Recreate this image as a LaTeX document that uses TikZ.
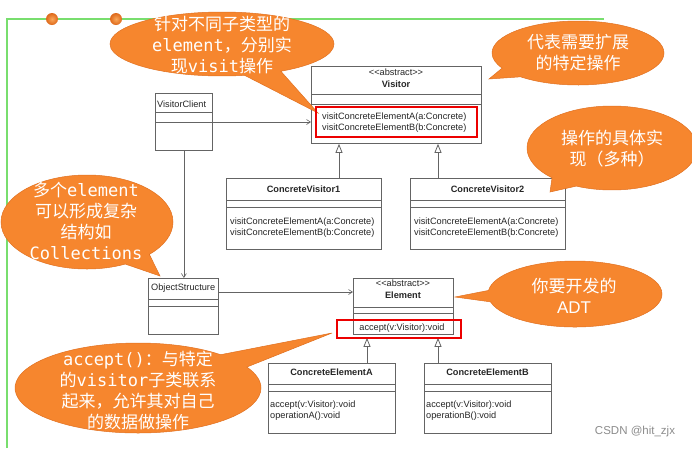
\documentclass[tikz,border=0pt]{standalone}
\usepackage{fontspec}
\setmainfont{Liberation Sans}
\newfontfamily\cjk{Noto Sans CJK SC}
\newfontfamily\mono{DejaVu Sans Mono}
\usepackage{tikz}
\usetikzlibrary{shapes.callouts,arrows.meta}

\definecolor{noteorange}{RGB}{246,134,46}
\definecolor{noteedge}{RGB}{225,112,32}
\definecolor{framegreen}{RGB}{120,222,110}
\definecolor{dotlight}{RGB}{250,168,90}
\definecolor{dotorange}{RGB}{222,104,26}
\definecolor{boxgray}{RGB}{100,100,100}
\definecolor{markred}{RGB}{236,0,0}

\newcommand{\umlsize}{\fontsize{9.2}{11}\selectfont}
\newcommand{\lat}[1]{{\mono #1}}
\newcommand{\stereo}{<\kern0pt<abstract>\kern0pt>}

\begin{document}
\begin{tikzpicture}[x=1pt,y=-1pt]

% Define class box, note and line styles
\tikzstyle{umlbox}  =[rectangle, draw=boxgray, fill=white, line width=0.8pt,
                      anchor=north west, inner sep=0pt]
\tikzstyle{umltext} =[inner sep=0pt, text=black!85, font=\umlsize]
\tikzstyle{umlbold} =[umltext, font=\umlsize\bfseries]
\tikzstyle{umlline} =[draw=boxgray, line width=0.8pt]
\tikzstyle{assoc}   =[umlline, line width=0.6pt, -{Straight Barb[length=4pt,width=5pt]}]
\tikzstyle{generalize} =[umlline, -{Triangle[open,length=9pt,width=7pt]}, fill=white]
\tikzstyle{bubble}  =[ellipse callout, fill=noteorange, draw=noteedge, line width=0.5pt,
                      inner sep=0pt, callout pointer arc=20]
\tikzstyle{bubbletext} =[inner sep=0pt, align=center, text=white,
                      font=\fontsize{17}{21}\selectfont\cjk]
\tikzstyle{markbox} =[draw=markred, line width=2.4pt]
\tikzstyle{dot}     =[inner color=dotlight, outer color=dotorange]

\useasboundingbox (0,0) rectangle (692,448);
\fill[white] (0,0) rectangle (692,448);

% frame with the two dots
\draw[framegreen, line width=1.5pt] (7,448) -- (7,19) -- (604,19);
\shade[dot] (52,19) circle (6pt);
\shade[dot] (116,19) circle (6pt);

% Visitor
\node[umlbox, minimum width=170, minimum height=77] (visitor) at (311,66) {};
\node[umltext] (visitor-stereo) at (396,72) {\stereo};
\node[umlbold] (visitor-name) at (396,84) {Visitor};
\draw[umlline] (311,94) -- (481,94) (311,104) -- (481,104);
\node[umltext, anchor=west] (visitor-opA) at (322,117) {visitConcreteElementA(a:Concrete)};
\node[umltext, anchor=west] (visitor-opB) at (322,128) {visitConcreteElementB(b:Concrete)};

% VisitorClient
\node[umlbox, minimum width=57, minimum height=57] (client) at (155,93) {};
\node[umltext, anchor=west] (client-name) at (157,104) {VisitorClient};
\draw[umlline] (155,112) -- (212,112) (155,122) -- (212,122);

% ObjectStructure
\node[umlbox, minimum width=70, minimum height=56] (objstruct) at (148,278) {};
\node[umltext, anchor=west] (objstruct-name) at (151,288) {ObjectStructure};
\draw[umlline] (148,299) -- (218,299) (148,306) -- (218,306);

% Element
\node[umlbox, minimum width=100, minimum height=56] (element) at (353,278) {};
\node[umltext] (element-stereo) at (403,283) {\stereo};
\node[umlbold] (element-name) at (403,295) {Element};
\draw[umlline] (353,307) -- (453,307) (353,313) -- (453,313);
\node[umltext] (element-op) at (402,328) {accept(v:Visitor):void};

% concrete visitors
\foreach \n/\x/\cname in {cvOne/226/ConcreteVisitor1, cvTwo/410/ConcreteVisitor2}{
  \node[umlbox, minimum width=155, minimum height=71] (\n) at (\x,178) {};
  \node[umlbold] (\n-name) at (\x+77.5,189) {\cname};
  \draw[umlline] (\x,200) -- (\x+155,200) (\x,207) -- (\x+155,207);
  \node[umltext, anchor=west] (\n-opA) at (\x+4,222) {visitConcreteElementA(a:Concrete)};
  \node[umltext, anchor=west] (\n-opB) at (\x+4,233) {visitConcreteElementB(b:Concrete)};
}

% concrete elements
\foreach \n/\x/\cname/\op in {ceA/268/ConcreteElementA/operationA, ceB/424/ConcreteElementB/operationB}{
  \node[umlbox, minimum width=127, minimum height=70] (\n) at (\x,363) {};
  \node[umlbold] (\n-name) at (\x+63.5,372) {\cname};
  \draw[umlline] (\x,384) -- (\x+127,384) (\x,391) -- (\x+127,391);
  \node[umltext, anchor=west] (\n-opA) at (\x+2,405) {accept(v:Visitor):void};
  \node[umltext, anchor=west] (\n-opB) at (\x+2,416) {\op():void};
}

% connectors
\coordinate (useY) at (0,122);
\coordinate (holdY) at (0,292);
\coordinate (genA) at (339,0);
\coordinate (genB) at (438,0);
\coordinate (genC) at (367,0);
\coordinate (genD) at (438,0);
\draw[assoc] (client.east |- useY) -- (visitor.west |- useY);
\draw[assoc] (client.south) -- (client.south |- objstruct.north);
\draw[assoc] (objstruct.east |- holdY) -- (element.west |- holdY);
\draw[generalize] (cvOne.north -| genA) -- (visitor.south -| genA);
\draw[generalize] (cvTwo.north -| genB) -- (visitor.south -| genB);
\draw[generalize] (ceA.north -| genC) -- ([yshift=-3pt]element.south -| genC);
\draw[generalize] (ceB.north -| genD) -- ([yshift=-3pt]element.south -| genD);

% notes
\coordinate (tipA) at (318,113);
\coordinate (tipB) at (489,79);
\coordinate (tipC) at (550,192);
\coordinate (tipD) at (160,276);
\coordinate (tipE) at (455,297);
\coordinate (tipF) at (332,333);

\node[bubble, minimum width=224, minimum height=64, callout absolute pointer={(tipA)}] (noteA) at (222,44) {};
\node[bubbletext] (noteA-text) at (222,45) {针对不同子类型的\\\lat{element}，分别实\\现\lat{visit}操作};

\node[bubble, minimum width=172, minimum height=64, callout absolute pointer={(tipB)}] (noteB) at (578,53) {};
\node[bubbletext] (noteB-text) at (578,53) {代表需要扩展\\的特定操作};

\node[bubble, minimum width=170, minimum height=84, callout absolute pointer={(tipC)}] (noteC) at (612,148) {};
\node[bubbletext] (noteC-text) at (612,149) {操作的具体实\\现（多种）};

\node[bubble, minimum width=172, minimum height=94, callout absolute pointer={(tipD)}] (noteD) at (87,222) {};
\node[bubbletext] (noteD-text) at (86,221) {多个\lat{element}\\可以形成复杂\\结构如\\\lat{Collections}};

\node[bubble, minimum width=174, minimum height=66, callout absolute pointer={(tipE)}] (noteE) at (575,294) {};
\node[bubbletext] (noteE-text) at (574,296) {你要开发的\\{\rmfamily ADT}};

\node[bubble, minimum width=246, minimum height=90, callout absolute pointer={(tipF)}] (noteF) at (138,388) {};
\node[bubbletext] (noteF-text) at (138,390) {\lat{accept()}：与特定\\的\lat{visitor}子类联系\\起来，允许其对自己\\的数据做操作};

% marked members
\draw[markbox] (316,107) rectangle (477,137);
\draw[markbox] (337,320) rectangle (461,338);

\node[inner sep=0pt, text=black!45, font=\fontsize{11.5}{13}\selectfont] (watermark) at (635,432) {CSDN @hit\_zjx};

\end{tikzpicture}
\end{document}
